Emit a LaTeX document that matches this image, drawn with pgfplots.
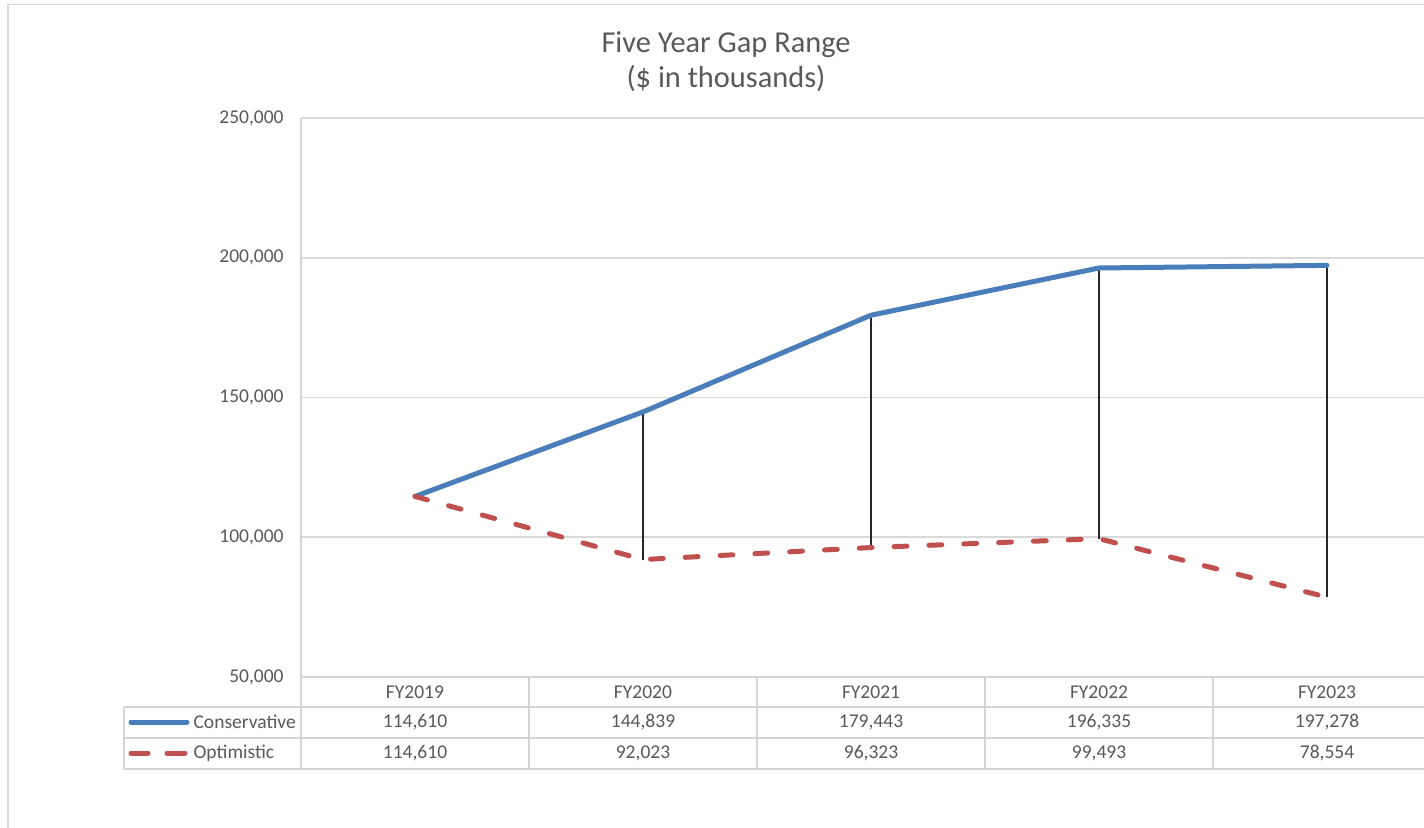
\documentclass[border=0pt]{standalone}
\usepackage{pgfplots}
\pgfplotsset{compat=1.18}
\usepackage{fontspec}
\setmainfont{Carlito}
\definecolor{serblue}{HTML}{4A7EBB}
\definecolor{serred}{HTML}{C0504D}
\definecolor{txtgray}{HTML}{595959}
\definecolor{gridgray}{HTML}{D9D9D9}
\definecolor{tabgray}{HTML}{D4D4D4}
\definecolor{dropc}{HTML}{262626}
\newcommand{\lbl}{\fontsize{6.83}{8}\selectfont}
\begin{document}
\begin{tikzpicture}
\useasboundingbox (0pt,0pt) rectangle (498.4pt,-289.45pt);
\clip (0pt,0pt) rectangle (498.4pt,-289.45pt);
\fill[white] (0pt,0pt) rectangle (498.4pt,-289.45pt);
\begin{scope}[x=0.35pt,y=-0.35pt]
% outer frame
\draw[gridgray, line width=0.6pt] (8,850) -- (8,4.5) -- (1440,4.5);
% title
\node[anchor=base, text=txtgray, font=\fontsize{10.64}{12}\selectfont, inner sep=0pt] at (726,52) {Five Year Gap Range};
\node[anchor=base, text=txtgray, font=\fontsize{10.64}{12}\selectfont, inner sep=0pt] at (726,87) {(\$ in thousands)};
\end{scope}
\begin{axis}[
  at={(105.35pt,-236.95pt)}, anchor=south west, scale only axis,
  width=399pt, height=195.65pt,
  xmin=-0.5, xmax=4.5, ymin=50000, ymax=250000,
  ytick={50000,100000,150000,200000,250000},
  yticklabels={{50,000},{100,000},{150,000},{200,000},{250,000}},
  xtick=\empty,
  axis x line=none,
  axis y line*=left,
  axis line style={tabgray, line width=0.6pt, -},
  ymajorgrids,
  grid style={gridgray, line width=0.6pt},
  major tick length=0pt,
  scaled y ticks=false,
  yticklabel style={font=\lbl, text=txtgray, anchor=east, inner sep=0pt, xshift=-5.9pt},
  clip=false,
]
\addplot[dropc, line width=0.7pt, forget plot] coordinates {(1,144839) (1,92023)};
\addplot[dropc, line width=0.7pt, forget plot] coordinates {(2,179443) (2,96323)};
\addplot[dropc, line width=0.7pt, forget plot] coordinates {(3,196335) (3,99493)};
\addplot[dropc, line width=0.7pt, forget plot] coordinates {(4,197278) (4,78554)};
\addplot[serblue, line width=1.75pt, line cap=round, line join=round] coordinates {
 (0,114610) (1,144839) (2,179443) (3,196335) (4,197278)};
\addplot[serred, line width=1.75pt, line cap=round, line join=round, dash pattern=on 4.5pt off 7.7pt] coordinates {
 (0,114610) (1,92023) (2,96323) (3,99493) (4,78554)};
\end{axis}
\begin{scope}[x=0.35pt,y=-0.35pt]
% data table grid
\begin{scope}[tabgray, line width=0.6pt]
\draw (301,677) -- (1441,677);
\draw (124,707) -- (1441,707);
\draw (124,738) -- (1441,738);
\draw (124,769) -- (1441,769);
\draw (124,707) -- (124,769);
\draw (301,677) -- (301,769);
\foreach \xx in {529,757,985,1213,1441} \draw (\xx,677) -- (\xx,769);
\end{scope}
% legend keys
\draw[serblue, line width=1.75pt, line cap=round] (131,722) -- (187,722);
\draw[serred, line width=1.75pt, line cap=round] (131,753) -- (148,753);
\draw[serred, line width=1.75pt, line cap=round] (167,753) -- (185,753);
\begin{scope}[every node/.style={text=txtgray, font=\lbl, inner sep=0pt}]
\node[anchor=west] at (193,722) {Conservative};
\node[anchor=west] at (193,753) {Optimistic};
\foreach \xx/\t in {415/FY2019,643/FY2020,871/FY2021,1099/FY2022,1327/FY2023} \node at (\xx,692) {\t};
\foreach \xx/\t in {415/{114,610},643/{144,839},871/{179,443},1099/{196,335},1327/{197,278}} \node at (\xx,722) {\t};
\foreach \xx/\t in {415/{114,610},643/{92,023},871/{96,323},1099/{99,493},1327/{78,554}} \node at (\xx,753) {\t};
\end{scope}
\end{scope}
\end{tikzpicture}
\end{document}
